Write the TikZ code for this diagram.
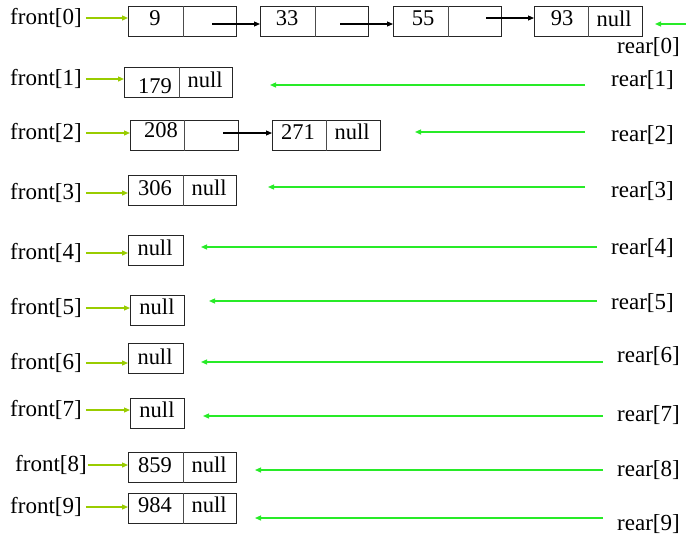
\documentclass[tikz,border=0pt]{standalone}
\usepackage{fontspec}
\setmainfont{Liberation Serif}
\usetikzlibrary{arrows.meta}
\definecolor{fgreen}{RGB}{153,204,0}
\definecolor{rgreen}{RGB}{40,235,40}
\begin{document}
\begin{tikzpicture}[x=1pt,y=-1pt,
  lbl/.style={font=\fontsize{23}{27}\selectfont, inner sep=0pt, anchor=west},
  txt/.style={font=\fontsize{22.5}{26}\selectfont, inner sep=0pt},
  boxa/.style={draw=black!85, line width=1.2pt, minimum height=30pt, inner sep=0pt, anchor=north west},
  wide/.style={boxa, minimum width=108pt},
  narrow/.style={boxa, minimum width=55pt},
  divline/.style={draw=black!70, line width=1pt},
  farrow/.style={draw=fgreen, line width=1.2pt, -{Triangle[length=6pt,width=5pt]}},
  rarrow/.style={draw=rgreen, line width=1.2pt, -{Triangle[length=6pt,width=5pt]}},
  link/.style={draw=black, line width=1.1pt, -{Triangle[length=6pt,width=5pt]}}
]
\useasboundingbox (0,0) rectangle (686,541);

% ---------- row 0 ----------
\node[wide] (b00) at (128,6) {};
\node[wide] (b01) at (260,6) {};
\node[wide] (b02) at (393,6) {};
\node[wide] (b03) at (534,6) {};
\foreach \b/\d in {b00/55,b01/55,b02/55,b03/54}
  \draw[divline] ([xshift=\d pt]\b.north west) -- ([xshift=\d pt]\b.south west);
\node[txt] (t00) at (155,18) {9};
\node[txt] (t01) at (287,18) {33};
\node[txt] (t02) at (423,18) {55};
\node[txt] (t03) at (562,18) {93};
\node[txt] (n03) at (614,19) {null};
\coordinate (l0a) at (212,24);
\coordinate (l0b) at (340,24);
\coordinate (l0c) at (486,18);
\draw[link] (l0a) -- (l0a -| b01.west);
\draw[link] (l0b) -- (l0b -| b02.west);
\draw[link] (l0c) -- (l0c -| b03.west);
\node[lbl] (f0) at (10,18) {front[0]};
\draw[farrow] ([xshift=4pt]f0.east) -- (f0.east -| b00.west);
\node[lbl] (r0) at (617,47) {rear[0]};
\coordinate (r0s) at (686,24);
\coordinate (r0e) at (655,24);
\draw[rarrow] (r0s) -- (r0e);

% ---------- row 1 ----------
\node[wide] (b10) at (124,67) {};
\draw[divline] ([xshift=55pt]b10.north west) -- ([xshift=55pt]b10.south west);
\node[txt] (t10) at (155,86) {179};
\node[txt] (n10) at (205,80) {null};
\node[lbl] (f1) at (10,79) {front[1]};
\draw[farrow] ([xshift=4pt]f1.east) -- (f1.east -| b10.west);
\node[lbl] (r1) at (611,80) {rear[1]};
\coordinate (r1s) at (585,85);
\coordinate (r1e) at (270,85);
\draw[rarrow] (r1s) -- (r1e);

% ---------- row 2 ----------
\node[wide] (b20) at (130,120) {};
\node[wide] (b21) at (272,120) {};
\draw[divline] ([xshift=54pt]b20.north west) -- ([xshift=54pt]b20.south west);
\draw[divline] ([xshift=54pt]b21.north west) -- ([xshift=54pt]b21.south west);
\node[txt] (t20) at (161,130) {208};
\node[txt] (t21) at (298,132) {271};
\node[txt] (n21) at (352,132) {null};
\coordinate (l2a) at (223,133);
\draw[link] (l2a) -- (l2a -| b21.west);
\node[lbl] (f2) at (10,133) {front[2]};
\draw[farrow] ([xshift=4pt]f2.east) -- (f2.east -| b20.west);
\node[lbl] (r2) at (611,135) {rear[2]};
\coordinate (r2s) at (585,132);
\coordinate (r2e) at (415,132);
\draw[rarrow] (r2s) -- (r2e);

% ---------- row 3 ----------
\node[wide] (b30) at (128,175) {};
\draw[divline] ([xshift=55pt]b30.north west) -- ([xshift=55pt]b30.south west);
\node[txt] (t30) at (155,188) {306};
\node[txt] (n30) at (209,188) {null};
\node[lbl] (f3) at (10,193) {front[3]};
\draw[farrow] ([xshift=4pt]f3.east) -- (f3.east -| b30.west);
\node[lbl] (r3) at (611,191) {rear[3]};
\coordinate (r3s) at (585,187);
\coordinate (r3e) at (268,187);
\draw[rarrow] (r3s) -- (r3e);

% ---------- row 4 ----------
\node[narrow] (b4) at (128,235) {};
\node[txt] (n4) at (155,248) {null};
\node[lbl] (f4) at (10,253) {front[4]};
\draw[farrow] ([xshift=4pt]f4.east) -- (f4.east -| b4.west);
\node[lbl] (r4) at (611,248) {rear[4]};
\coordinate (r4s) at (597,247);
\coordinate (r4e) at (201,247);
\draw[rarrow] (r4s) -- (r4e);

% ---------- row 5 ----------
\node[narrow, minimum width=54pt] (b5) at (130,295) {};
\node[txt] (n5) at (157,307) {null};
\node[lbl] (f5) at (10,308) {front[5]};
\draw[farrow] ([xshift=4pt]f5.east) -- (f5.east -| b5.west);
\node[lbl] (r5) at (611,303) {rear[5]};
\coordinate (r5s) at (597,301);
\coordinate (r5e) at (209,301);
\draw[rarrow] (r5s) -- (r5e);

% ---------- row 6 ----------
\node[narrow] (b6) at (128,343) {};
\node[txt] (n6) at (155,357) {null};
\node[lbl] (f6) at (10,363) {front[6]};
\draw[farrow] ([xshift=4pt]f6.east) -- (f6.east -| b6.west);
\node[lbl] (r6) at (617,356) {rear[6]};
\coordinate (r6s) at (603,362);
\coordinate (r6e) at (201,362);
\draw[rarrow] (r6s) -- (r6e);

% ---------- row 7 ----------
\node[narrow, minimum width=54pt] (b7) at (130,398) {};
\node[txt] (n7) at (157,410) {null};
\node[lbl] (f7) at (10,410) {front[7]};
\draw[farrow] ([xshift=4pt]f7.east) -- (f7.east -| b7.west);
\node[lbl] (r7) at (617,415) {rear[7]};
\coordinate (r7s) at (603,416);
\coordinate (r7e) at (203,416);
\draw[rarrow] (r7s) -- (r7e);

% ---------- row 8 ----------
\node[wide] (b8) at (128,452) {};
\draw[divline] ([xshift=55pt]b8.north west) -- ([xshift=55pt]b8.south west);
\node[txt] (t8) at (155,465) {859};
\node[txt] (n8) at (209,465) {null};
\node[lbl] (f8) at (15,465) {front[8]};
\draw[farrow] ([xshift=1pt]f8.east) -- (f8.east -| b8.west);
\node[lbl] (r8) at (617,470) {rear[8]};
\coordinate (r8s) at (603,470);
\coordinate (r8e) at (255,470);
\draw[rarrow] (r8s) -- (r8e);

% ---------- row 9 ----------
\node[wide] (b9) at (128,493) {};
\draw[divline] ([xshift=55pt]b9.north west) -- ([xshift=55pt]b9.south west);
\node[txt] (t9) at (155,505) {984};
\node[txt] (n9) at (209,505) {null};
\node[lbl] (f9) at (10,507) {front[9]};
\draw[farrow] ([xshift=4pt]f9.east) -- (f9.east -| b9.west);
\node[lbl] (r9) at (617,524) {rear[9]};
\coordinate (r9s) at (603,518);
\coordinate (r9e) at (255,518);
\draw[rarrow] (r9s) -- (r9e);
\end{tikzpicture}
\end{document}
